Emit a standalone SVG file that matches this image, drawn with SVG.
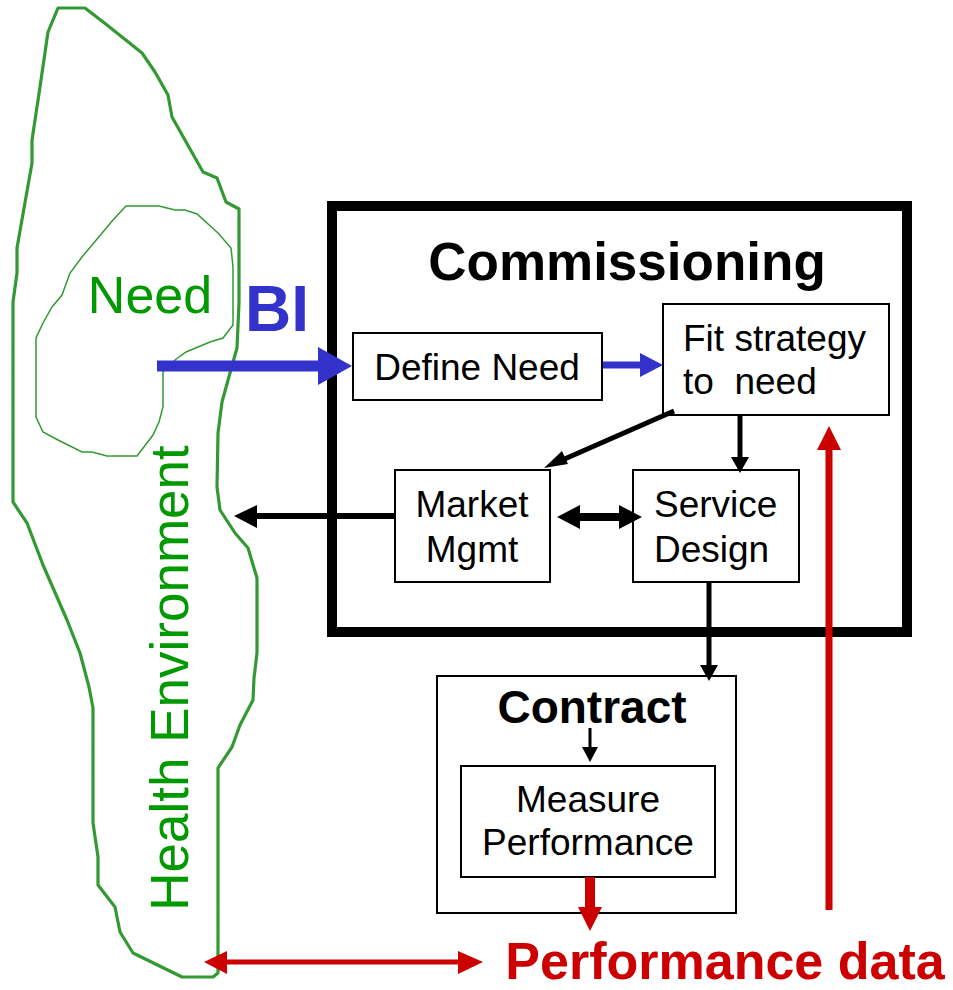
<svg xmlns="http://www.w3.org/2000/svg" width="953" height="990" viewBox="0 0 953 990">
<style>
text{font-family:"Liberation Sans",Arial,sans-serif}
.box{fill:#fff;stroke:#000;stroke-width:2}
.t{font-size:37px;fill:#000}
.blk{stroke:#000;fill:none}
.red{stroke:#CC0000;fill:none}
</style>
<rect width="953" height="990" fill="#fff"/>
<g id="health-environment">
<polygon points="58,8 85,8 107,25 142,53 155,72 168,95 172,117 203,172 217,178 226,202 239,209 239,303 237,348 230,373 222,402 218,433 217,487 220,510 235,533 248,548 257,578 257,653 254,678 253,700 240,725 232,747 218,768 218,973 213,977 182,977 133,953 120,932 115,907 98,885 98,857 93,823 93,708 89,687 80,653 67,620 43,565 27,523 13,502 13,302 17,273 17,248 32,163 32,140 40,87 48,32" fill="none" stroke="#339933" stroke-width="3.2" stroke-linejoin="round"/>
<text transform="translate(188,678) rotate(-90)" text-anchor="middle" font-size="53" fill="#009900">Health Environment</text>
</g>
<g id="need">
<polygon points="126,206 159,206 175,210 185,210 197,214 218,233 231,248 233,267 233,325 223,338 210,342 186,352 175,360 163,372 163,407 159,422 153,435 137,456 107,456 92,452 82,452 58,440 43,432 36,417 36,338 43,323 52,307 62,295 70,273 82,257 113,220" fill="none" stroke="#339933" stroke-width="1.5"/>
<text x="150" y="313" text-anchor="middle" font-size="52" fill="#009900">Need</text>
</g>
<g id="bi-label">
<text x="277" y="331" text-anchor="middle" font-size="64" font-weight="bold" fill="#3333CC">BI</text>
</g>
<g id="commissioning">
<rect x="332" y="206" width="575" height="426" fill="none" stroke="#000" stroke-width="10"/>
<text x="627" y="280" text-anchor="middle" font-size="53" font-weight="bold">Commissioning</text>
</g>
<g id="define-need">
<rect class="box" x="353" y="333" width="249" height="67"/>
<text class="t" x="477" y="380" text-anchor="middle">Define Need</text>
</g>
<g id="fit-strategy">
<rect class="box" x="663" y="304" width="226" height="111"/>
<text class="t" x="683" y="351" xml:space="preserve">Fit strategy</text>
<text class="t" x="683" y="394" xml:space="preserve">to  need</text>
</g>
<g id="market-mgmt">
<rect class="box" x="395" y="470" width="155" height="112"/>
<text class="t" x="472" y="517" text-anchor="middle">Market</text>
<text class="t" x="472" y="562" text-anchor="middle">Mgmt</text>
</g>
<g id="service-design">
<rect class="box" x="633" y="470" width="166" height="112"/>
<text class="t" x="654" y="517">Service</text>
<text class="t" x="654" y="562">Design</text>
</g>
<g id="contract">
<rect class="box" x="437" y="676" width="299" height="237"/>
<text x="592" y="723" text-anchor="middle" font-size="46" font-weight="bold">Contract</text>
</g>
<g id="measure-performance">
<rect class="box" x="461" y="766" width="254" height="111"/>
<text class="t" x="588" y="812" text-anchor="middle">Measure</text>
<text class="t" x="588" y="855" text-anchor="middle">Performance</text>
</g>
<g id="performance-data">
<text x="725" y="979" text-anchor="middle" font-size="52" font-weight="bold" fill="#CC0000">Performance data</text>
</g>
<g id="connectors">
<line x1="157" y1="366" x2="320" y2="366" stroke="#3333CC" stroke-width="11"/>
<polygon points="318,347 352,366 318,385" fill="#3333CC"/>
<line x1="603" y1="365" x2="642" y2="365" stroke="#3333CC" stroke-width="7"/>
<polygon points="640,353 663,365 640,377" fill="#3333CC"/>
<line class="blk" x1="674" y1="411" x2="560" y2="461" stroke-width="5"/>
<polygon points="544,468 562,451 568,464" fill="#000"/>
<line class="blk" x1="740" y1="415" x2="740" y2="460" stroke-width="5"/>
<polygon points="731,457 749,457 740,473" fill="#000"/>
<line class="blk" x1="575" y1="517" x2="625" y2="517" stroke-width="8"/>
<polygon points="557,517 580,505 580,529" fill="#000"/>
<polygon points="642,517 619,505 619,529" fill="#000"/>
<line class="blk" x1="395" y1="516" x2="255" y2="516" stroke-width="6"/>
<polygon points="234,516 257,505 257,528" fill="#000"/>
<line class="blk" x1="709" y1="582" x2="709" y2="668" stroke-width="5"/>
<polygon points="700,665 718,665 709,681" fill="#000"/>
<line class="blk" x1="590" y1="728" x2="590" y2="750" stroke-width="3"/>
<polygon points="582,747 598,747 590,762" fill="#000"/>
<line class="red" x1="590" y1="877" x2="590" y2="910" stroke-width="10"/>
<polygon points="578,907 602,907 590,931" fill="#CC0000"/>
<line class="red" x1="225" y1="962" x2="460" y2="962" stroke-width="5"/>
<polygon points="204,962 227,951 227,974" fill="#CC0000"/>
<polygon points="483,962 458,951 458,974" fill="#CC0000"/>
<line class="red" x1="829" y1="910" x2="829" y2="447" stroke-width="7"/>
<polygon points="829,426 817,450 841,450" fill="#CC0000"/>
</g>
</svg>
